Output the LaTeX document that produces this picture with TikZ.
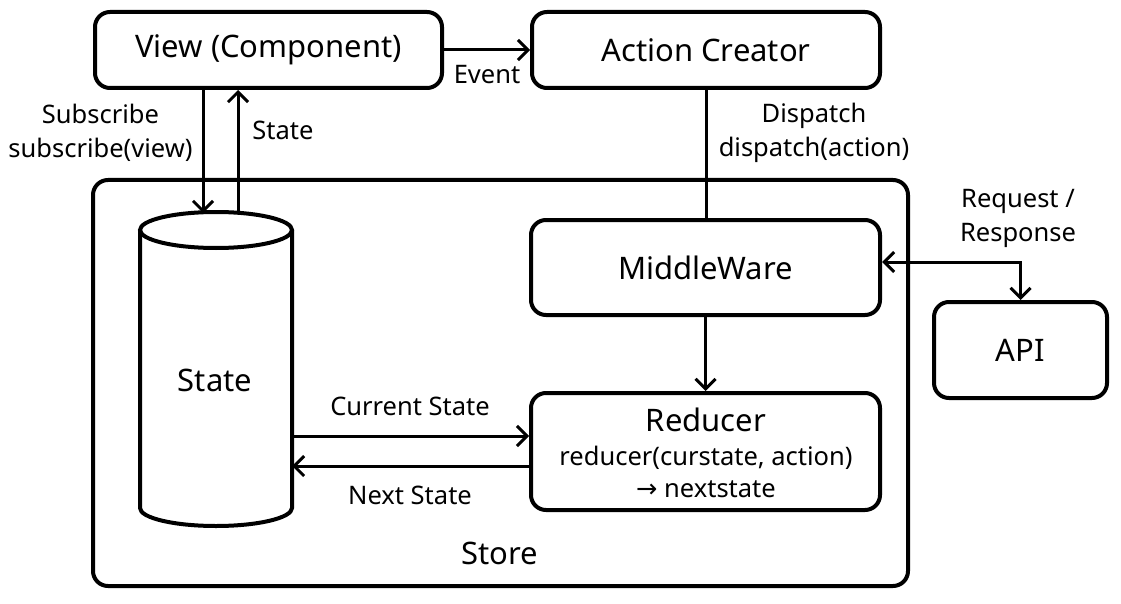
\documentclass[tikz,border=0pt]{standalone}
\usepackage{fontspec}
\setmainfont{Noto Sans}
\newfontfamily\arrowfont{DejaVu Sans}
\usetikzlibrary{positioning,arrows.meta}
\tikzset{>={Straight Barb[length=10pt,width=20pt]}}
\tikzset{box/.style={draw,line width=4pt,rounded corners=15pt,font=\fontsize{31}{36}\selectfont},
  big/.style={font=\fontsize{31}{36}\selectfont},
  lbl/.style={font=\fontsize{25.5}{34}\selectfont,align=center},
  conn/.style={line width=3pt,->}}

\begin{document}
\begin{tikzpicture}[x=1pt,y=-1pt]
\useasboundingbox (0,0) rectangle (1121,604);
\node[box,minimum width=815pt,minimum height=406pt] (store) at (500.5,383) {};
\node[big] (storetxt) at (500,553) {Store};
\node[box,minimum width=347pt,minimum height=76pt] (view) at (268.5,50) {View (Component)};
\node[box,minimum width=348pt,minimum height=76pt] (action) at (706,50) {Action Creator};
\node[box,minimum width=349pt,minimum height=95pt] (mw) at (705.5,267.5) {MiddleWare};
\node[box,minimum width=349pt,minimum height=117pt] (reducer) at (705.5,451.5) {};
\node[big] (redtitle) at (706,420) {Reducer};
\node[lbl] (redcall) at (706,458) {reducer(curstate, action)};
\node[lbl] (rednext) at (706,489) {{\arrowfont →} nextstate};
\node[box,minimum width=173pt,minimum height=96pt] (api) at (1020.5,350) {API};
% state cylinder
\draw[line width=4pt] (140,230) -- (140,508) arc[start angle=180,end angle=0,x radius=76,y radius=18] -- (292,230);
\draw[line width=4pt] (216,230) ellipse [x radius=76,y radius=18];
\node[big] (state) at (215,380) {State};
\coordinate (subin) at (203,213);
\coordinate (stateout) at (238,212);
\coordinate (cs) at (292,436);
\coordinate (ns) at (292,466);
\coordinate (req) at (1020,262);
% connectors
\draw[conn] (view.east) -- (action.west);
\node[lbl] (event) at (487,75) {Event};
\draw[conn] (view.south -| subin) -- (subin);
\draw[conn] (stateout) -- (view.south -| stateout);
\node[lbl,anchor=east] (sublbl) at (196,133) {Subscribe\\subscribe(view)};
\node[lbl] (statelbl) at (283,130) {State};
\draw[line width=3pt] (action.south) -- (action.south |- mw.north);
\node[lbl] (displbl) at (814,133) {Dispatch\\dispatch(action)};
\draw[conn] (mw.south) -- (reducer.north);
\draw[conn] (cs) -- (cs -| reducer.west);
\draw[conn] (ns -| reducer.west) -- (ns);
\node[lbl] (curlbl) at (410,406) {Current State};
\node[lbl] (nextlbl) at (410,495) {Next State};
\draw[conn,<->] (mw.east |- req) -| (api.north);
\node[lbl] (reqlbl) at (1018,218.5) {Request /\\Response};
\end{tikzpicture}
\end{document}
